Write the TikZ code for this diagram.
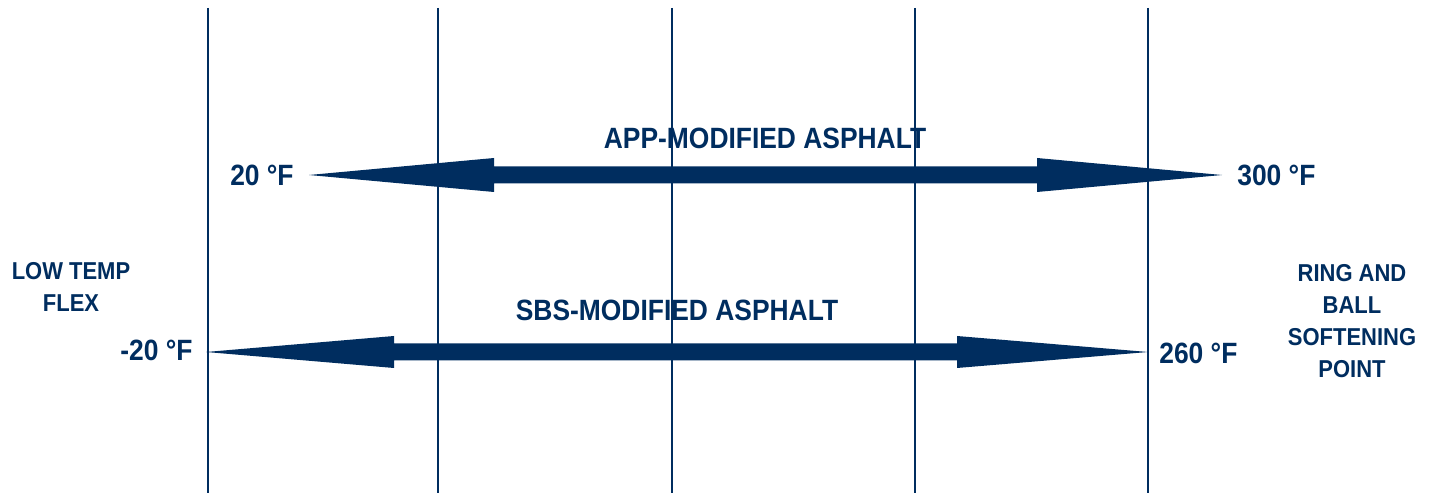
\documentclass[tikz,border=0pt]{standalone}
\usepackage{fontspec}
\setmainfont[FakeStretch=0.9]{Liberation Sans}
\usepackage{xcolor}
\usepackage{tikz}
\usetikzlibrary{positioning, calc}

\definecolor{asphaltblue}{RGB}{0,45,95}

\tikzset{
  gridline/.style={asphaltblue, line width=1.1pt},
  headline/.style={inner sep=0pt, text=asphaltblue, font=\fontsize{16.7}{20}\selectfont\bfseries},
  tempnote/.style={inner sep=0pt, text=asphaltblue, font=\fontsize{16.7}{20}\selectfont\bfseries},
  sidenote/.style={inner sep=0pt, align=center, text=asphaltblue, font=\fontsize{13.9}{18.2}\selectfont\bfseries},
  bigarrow/.style={fill=asphaltblue}
}

\begin{document}
\begin{tikzpicture}[x=0.02cm, y=-0.02cm]
        \useasboundingbox (0,0) rectangle (1431,493);

        % vertical grid
        \foreach \gx in {208,438,672,915,1148}
          \draw[gridline] (\gx,8) -- (\gx,493);

        % arrow end points
        \coordinate (appL) at (309,175);
        \coordinate (appR) at (1222,175);
        \coordinate (sbsL) at (206,352);
        \coordinate (sbsR) at (1148,352);

        % APP arrow
        \fill[bigarrow] (appL) -- ($(appL)+(185,-17)$) -- ($(appL)+(185,-8.5)$)
          -- ($(appR)+(-185,-8.5)$) -- ($(appR)+(-185,-17)$) -- (appR)
          -- ($(appR)+(-185,17)$) -- ($(appR)+(-185,8.5)$)
          -- ($(appL)+(185,8.5)$) -- ($(appL)+(185,17)$) -- cycle;

        % SBS arrow
        \fill[bigarrow] (sbsL) -- ($(sbsL)+(188,-16)$) -- ($(sbsL)+(188,-8.5)$)
          -- ($(sbsR)+(-191,-8.5)$) -- ($(sbsR)+(-191,-16)$) -- (sbsR)
          -- ($(sbsR)+(-191,16)$) -- ($(sbsR)+(-191,8.5)$)
          -- ($(sbsL)+(188,8.5)$) -- ($(sbsL)+(188,16)$) -- cycle;

        \node[headline] (apptitle) at (765,138) {APP-MODIFIED ASPHALT};
        \node[headline] (sbstitle) at (677,310) {SBS-MODIFIED ASPHALT};

        \node[tempnote, anchor=east] (applow) at (294,175) {20 °F};
        \node[tempnote, anchor=west] (apphigh) at (1237,175) {300 °F};
        \node[tempnote, anchor=east] (sbslow) at (193,350) {-20 °F};
        \node[tempnote, anchor=west] (sbshigh) at (1159,353) {260 °F};

        \node[sidenote] (lowflex) at (71,287) {LOW TEMP\\FLEX};
        \node[sidenote] (ringball) at (1352,321) {RING AND\\BALL\\SOFTENING\\POINT};
      \end{tikzpicture}
\end{document}
